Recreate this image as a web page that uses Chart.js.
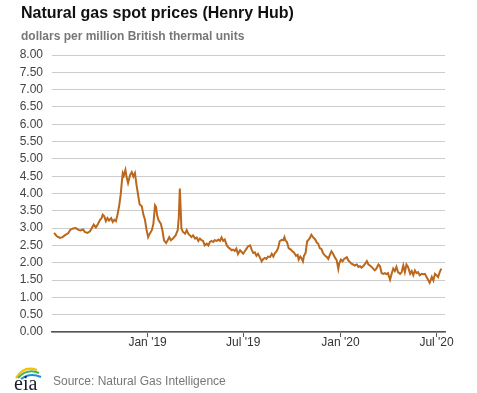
<!DOCTYPE html>
<html>
<head>
<meta charset="utf-8">
<script src="https://cdn.jsdelivr.net/npm/chart.js@4"></script>
<style>
  html, body { margin: 0; padding: 0; background: #fff; }
  #wrap { position: relative; width: 477px; height: 393px; font-family: Arial, "Liberation Sans", sans-serif; }
  #chart { position: absolute; left: 0; top: 0; }
  .title { position: absolute; left: 21px; top: 5px; font-size: 16px; line-height: 16px; font-weight: bold; color: #111; white-space: nowrap; }
  .subtitle { position: absolute; left: 21px; top: 30px; font-size: 12px; line-height: 12px; font-weight: bold; color: #777; white-space: nowrap; }
  .source { position: absolute; left: 53px; top: 375px; font-size: 12px; line-height: 12px; color: #777; white-space: nowrap; }
  #logo { position: absolute; left: 10px; top: 360px; }
</style>
</head>
<body>
<div id="wrap">
  <canvas id="chart" width="477" height="393"></canvas>
  <div class="title">Natural gas spot prices (Henry Hub)</div>
  <div class="subtitle">dollars per million British thermal units</div>
  <svg id="logo" width="36" height="33" viewBox="0 0 36 33">
    <path d="M6,18 Q14,5 27,10" fill="none" stroke="#f2c200" stroke-width="2"/>
    <path d="M8,18 Q17,8 29,13" fill="none" stroke="#4caf50" stroke-width="2"/>
    <path d="M11,19 Q20,12 31,17" fill="none" stroke="#1e8fd6" stroke-width="2"/>
    <text x="4" y="30" font-family="'Liberation Serif', 'DejaVu Serif', serif" font-size="20" fill="#1a1a2e">eia</text>
  </svg>
  <div class="source">Source: Natural Gas Intelligence</div>
</div>
<script>
// Henry Hub spot price, dollars per MMBtu
const dates = [
  '2018-07-08','2018-07-13','2018-07-19','2018-07-24','2018-07-28','2018-08-04','2018-08-08','2018-08-13',
  '2018-08-18','2018-08-23','2018-08-27','2018-09-01','2018-09-04','2018-09-09','2018-09-14','2018-09-17',
  '2018-09-21','2018-09-25','2018-09-29','2018-10-03','2018-10-06','2018-10-08','2018-10-11','2018-10-14',
  '2018-10-17','2018-10-20','2018-10-24','2018-10-27','2018-10-30','2018-11-02','2018-11-05','2018-11-08',
  '2018-11-11','2018-11-13','2018-11-15','2018-11-17','2018-11-20','2018-11-22','2018-11-25','2018-11-29',
  '2018-12-02','2018-12-05','2018-12-08','2018-12-11','2018-12-14','2018-12-17','2018-12-21','2018-12-24',
  '2018-12-27','2018-12-30',
  '2019-01-02','2019-01-05','2019-01-09','2019-01-12','2019-01-15','2019-01-17','2019-01-19','2019-01-22',
  '2019-01-26','2019-01-29','2019-02-01','2019-02-05','2019-02-08','2019-02-11','2019-02-14','2019-02-18',
  '2019-02-23','2019-02-27','2019-03-01','2019-03-03','2019-03-04','2019-03-06','2019-03-09','2019-03-13',
  '2019-03-16','2019-03-19','2019-03-22','2019-03-25','2019-03-28','2019-04-01','2019-04-04','2019-04-07',
  '2019-04-10','2019-04-13','2019-04-16','2019-04-19','2019-04-23','2019-04-26','2019-04-29','2019-05-02',
  '2019-05-05','2019-05-08','2019-05-12','2019-05-15','2019-05-18','2019-05-21','2019-05-24','2019-05-27',
  '2019-05-31','2019-06-03','2019-06-06','2019-06-09','2019-06-12','2019-06-15','2019-06-18','2019-06-21',
  '2019-06-25','2019-06-28','2019-07-01','2019-07-04','2019-07-07','2019-07-10','2019-07-14','2019-07-17',
  '2019-07-20','2019-07-23','2019-07-26','2019-07-29','2019-08-02','2019-08-05','2019-08-08','2019-08-11',
  '2019-08-14','2019-08-17','2019-08-21','2019-08-24','2019-08-27','2019-08-30','2019-09-02','2019-09-05',
  '2019-09-08','2019-09-12','2019-09-15','2019-09-17','2019-09-19','2019-09-22','2019-09-25','2019-09-29',
  '2019-10-02','2019-10-05','2019-10-09','2019-10-12','2019-10-14','2019-10-17','2019-10-19','2019-10-22',
  '2019-10-24','2019-10-27','2019-10-30','2019-11-01','2019-11-04','2019-11-07','2019-11-10','2019-11-14',
  '2019-11-17','2019-11-20','2019-11-23','2019-11-26','2019-11-29','2019-12-03','2019-12-06','2019-12-09',
  '2019-12-12','2019-12-15','2019-12-18','2019-12-22','2019-12-25','2019-12-28','2019-12-30',
  '2020-01-02','2020-01-05','2020-01-08','2020-01-13','2020-01-16','2020-01-19','2020-01-22','2020-01-25',
  '2020-01-28','2020-02-01','2020-02-04','2020-02-07','2020-02-10','2020-02-13','2020-02-16','2020-02-20',
  '2020-02-23','2020-02-26','2020-02-29','2020-03-03','2020-03-06','2020-03-09','2020-03-13','2020-03-16',
  '2020-03-19','2020-03-22','2020-03-25','2020-03-28','2020-03-31','2020-04-04','2020-04-07','2020-04-10',
  '2020-04-13','2020-04-16','2020-04-19','2020-04-23','2020-04-26','2020-04-29','2020-05-02','2020-05-05',
  '2020-05-08','2020-05-12','2020-05-15','2020-05-18','2020-05-21','2020-05-24','2020-05-27','2020-05-30',
  '2020-06-03','2020-06-06','2020-06-09','2020-06-12','2020-06-15','2020-06-18','2020-06-22','2020-06-25',
  '2020-06-28','2020-07-01','2020-07-04','2020-07-07','2020-07-10'
];
const prices = [
  2.86, 2.77, 2.72, 2.74, 2.79, 2.86, 2.96, 2.99,
  3.00, 2.95, 2.93, 2.96, 2.89, 2.86, 2.91, 2.99,
  3.10, 3.02, 3.12, 3.24, 3.29, 3.39, 3.34, 3.20,
  3.29, 3.22, 3.29, 3.18, 3.24, 3.20, 3.39, 3.63,
  3.96, 4.30, 4.59, 4.52, 4.68, 4.49, 4.30, 4.54,
  4.62, 4.49, 4.59, 4.25, 3.96, 3.68, 3.63, 3.39,
  3.24, 2.95,
  2.74, 2.84, 2.94, 3.13, 3.66, 3.61, 3.37, 3.22,
  3.13, 2.94, 2.65, 2.57, 2.65, 2.74, 2.65, 2.70,
  2.79, 2.94, 3.30, 4.14, 3.80, 2.98, 2.89, 2.84,
  2.94, 2.84, 2.79, 2.74, 2.79, 2.70, 2.73, 2.63,
  2.70, 2.65, 2.63, 2.50, 2.55, 2.50, 2.60, 2.63,
  2.60, 2.65, 2.63, 2.67, 2.63, 2.73, 2.63, 2.67,
  2.50, 2.44, 2.41, 2.36, 2.38, 2.34, 2.41, 2.25,
  2.36, 2.31, 2.26, 2.33, 2.40, 2.47, 2.50, 2.38,
  2.28, 2.30, 2.20, 2.26, 2.14, 2.04, 2.11, 2.14,
  2.11, 2.18, 2.17, 2.26, 2.18, 2.28, 2.33, 2.42,
  2.62, 2.66, 2.65, 2.74, 2.65, 2.59, 2.42, 2.38,
  2.33, 2.30, 2.20, 2.23, 2.09, 2.18, 2.14, 2.04,
  2.20, 2.28, 2.62, 2.65, 2.71, 2.81, 2.74, 2.68,
  2.59, 2.55, 2.42, 2.40, 2.28, 2.20, 2.17, 2.11,
  2.23, 2.33, 2.26, 2.14, 2.07, 1.82, 1.99,
  2.09, 2.04, 2.11, 2.16, 2.07, 2.02, 1.97, 1.95,
  1.92, 1.95, 1.88, 1.90, 1.86, 1.90, 1.95, 2.05,
  1.95, 1.92, 1.88, 1.83, 1.78, 1.83, 1.95, 1.90,
  1.70, 1.68, 1.70, 1.67, 1.70, 1.51, 1.68, 1.83,
  1.76, 1.88, 1.73, 1.68, 1.73, 1.92, 1.73, 1.95,
  1.88, 1.68, 1.76, 1.64, 1.78, 1.70, 1.73, 1.64,
  1.68, 1.67, 1.68, 1.59, 1.51, 1.42, 1.59, 1.49,
  1.68, 1.64, 1.59, 1.73, 1.83
];
const tickDates = ['2019-01-01', '2019-07-01', '2020-01-01', '2020-07-01'];
const tickLabels = ["Jan '19", "Jul '19", "Jan '20", "Jul '20"];
const rangeStart = '2018-07-04';
const rangeEnd = '2020-07-17';

const origin = Date.parse('2019-01-01');
const dayOf = s => Math.round((Date.parse(s) - origin) / 864e5);

Chart.defaults.font.family = 'Arial, "Liberation Sans", sans-serif';
Chart.defaults.font.size = 12;

new Chart(document.getElementById('chart'), {
    type: 'line',
    data: {
        datasets: [{
            data: dates.map((d, i) => ({ x: dayOf(d), y: prices[i] })),
            borderColor: '#bb671c',
            borderWidth: 2,
            pointRadius: 0,
            tension: 0,
            fill: false
        }]
    },
    options: {
        responsive: false,
        animation: false,
        layout: { padding: { top: 55, right: 32, left: 0, bottom: 0 } },
        plugins: { legend: { display: false }, tooltip: { enabled: false } },
        scales: {
            x: {
                type: 'linear',
                min: dayOf(rangeStart),
                max: dayOf(rangeEnd),
                afterBuildTicks: scale => {
                    scale.ticks = tickDates.map(d => ({ value: dayOf(d) }));
                },
                afterFit: scale => { scale.height = 61; },
                grid: { drawOnChartArea: false, drawTicks: true, tickLength: 5, color: '#555', lineWidth: 1 },
                border: { display: true, color: '#555', width: 1.5 },
                ticks: {
                    autoSkip: false,
                    maxRotation: 0,
                    padding: -2,
                    color: '#333',
                    callback: (v, i) => tickLabels[i]
                }
            },
            y: {
                min: 0,
                max: 8,
                afterFit: scale => { scale.width = 52; },
                grid: { drawTicks: false, color: '#cccccc', lineWidth: 1 },
                border: { display: false },
                ticks: {
                    stepSize: 0.5,
                    maxTicksLimit: 20,
                    autoSkip: false,
                    padding: 9,
                    color: '#444',
                    callback: v => v.toFixed(2)
                }
            }
        }
    }
});
</script>
</body>
</html>
